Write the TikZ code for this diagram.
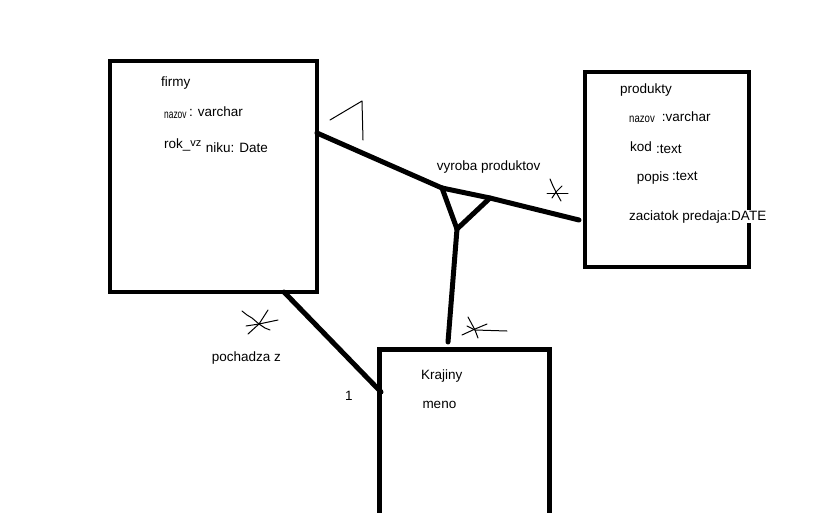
\documentclass[tikz,border=0pt]{standalone}
\usepackage{fontspec}
\setmainfont{Liberation Sans}
\begin{document}
\begin{tikzpicture}[x=1pt,y=-1pt,
  entity/.style={draw, line width=4.5pt, inner sep=0pt, outer sep=0pt, fill=none},
  rel/.style={line width=5pt, line cap=round, line join=round},
  thinmark/.style={line width=1pt, line cap=round, line join=round},
  lbl/.style={anchor=base west, inner sep=0pt, font=\fontsize{13.5}{15}\selectfont},
  small/.style={lbl, font=\fontsize{12}{14}\selectfont}]
\useasboundingbox (0,0) rectangle (820,512);
\clip (0,0) rectangle (820,512);
% entities
\node[entity, minimum width=207pt, minimum height=231pt] (firmy) at (213.5,176.5) {};
\node[entity, minimum width=164pt, minimum height=195pt] (produkty) at (667,169.5) {};
\node[entity, minimum width=170pt, minimum height=300pt] (krajiny) at (464.5,499.5) {};
% relationship triangle
\coordinate (t1) at (442,188);
\coordinate (t2) at (490,198);
\coordinate (t3) at (457,229);
\draw[rel] ([yshift=43.5pt]firmy.east) -- (t1);
\draw[rel] (t1) -- (t2) -- ([xshift=-6pt,yshift=-50.5pt]produkty.west);
\draw[rel] (t1) -- (t3) -- (t2);
\draw[rel] (t3) -- ([xshift=-16.5pt,yshift=7.5pt]krajiny.north);
\draw[rel] ([xshift=70.5pt]firmy.south) -- ([xshift=1.5pt,yshift=107.5pt]krajiny.west);
% hand-drawn cardinality marks
\draw[thinmark] (330,120) -- (362,101) -- (363,140);
\draw[thinmark] (550,179) -- (553,186) -- (556,192) -- (561,201);
\draw[thinmark] (547,193) -- (568,193);
\draw[thinmark] (552,198) -- (556,192) -- (562,186);
\draw[thinmark] (468,317) -- (475,330) -- (478,338);
\draw[thinmark] (462,335) -- (475,329) -- (487,324);
\draw[thinmark] (467,326) -- (475,330) -- (507,331);
\draw[thinmark] (242,311) -- (247,315) -- (252,318) -- (259,324) -- (265,328) -- (270,330);
\draw[thinmark] (268,310) -- (259,324) -- (248,334);
\draw[thinmark] (246,326) -- (259,324) -- (278,320);
% texts
\node[lbl] (tfirmy) at (161,86) {firmy};
\node[small] (tfn) at (164,118.3) {\scalebox{0.7}[1]{nazov}};
\node[lbl] (tfnv) at (189,116.7) {: varchar};
\node[lbl] (tfr) at (164,148) {rok\_{\fontsize{11}{11}\selectfont\raisebox{1.5pt}{vz}}};
\node[lbl] (tfrd) at (205.7,152.7) {niku: Date};
\node[lbl] (tvyr) at (436.7,170) {vyroba produktov};
\node[lbl] (tprod) at (620,93) {produkty};
\node[small] (tpn) at (629,122.3) {\scalebox{0.8}[1]{nazov}};
\node[lbl] (tpnv) at (661.7,121.7) {:varchar};
\node[lbl] (tpk) at (630,151) {kod};
\node[lbl] (tpkt) at (656,153.3) {:text};
\node[lbl] (tpp) at (636.7,181.7) {popis};
\node[lbl] (tppt) at (672,180) {:text};
\node[lbl, fill=white] (tpz) at (629,220) {zaciatok predaja:DATE};
\node[lbl] (tpoch) at (211.7,361.7) {pochadza z};
\node[lbl] (tone) at (345,400) {1};
\node[lbl] (tkraj) at (421,379.3) {Krajiny};
\node[lbl] (tmeno) at (422.3,408.3) {meno};
\end{tikzpicture}
\end{document}
